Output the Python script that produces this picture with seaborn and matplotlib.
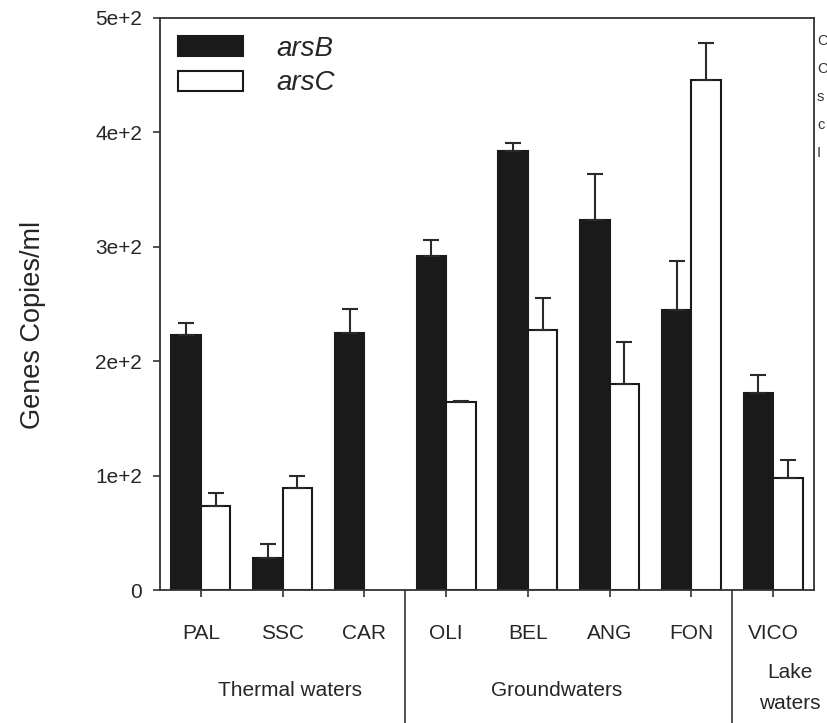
import numpy as np
import pandas as pd
import matplotlib
matplotlib.use("Agg")
import matplotlib.pyplot as plt
import seaborn as sns

# values
sites = ["PAL", "SSC", "CAR", "OLI", "BEL", "ANG", "FON", "VICO"]
genes = ["arsB", "arsC"]
arsb = [223, 28, 225, 292, 384, 323, 245, 172]
arsb_err = [10, 12, 21, 14, 7, 41, 43, 16]
arsc = [73, 89, np.nan, 164, 227, 180, 446, 98]   # no arsC bar for CAR
arsc_err = [12, 11, 0, 1, 28, 37, 32, 16]
y_ticks = [0, 100, 200, 300, 400, 500]
y_labels = ["0", "1e+2", "2e+2", "3e+2", "4e+2", "5e+2"]
groups = ["Thermal waters", "Groundwaters", "Lake\nwaters"]
group_breaks = [2.5, 6.5]
side_letters = ["C", "C", "s", "c", "I"]


def main():
    df = pd.DataFrame({
        "site": sites * 2,
        "gene": ["arsB"] * len(sites) + ["arsC"] * len(sites),
        "copies": arsb + arsc,
        "err": arsb_err + arsc_err,
    }).dropna()

    sns.set_style("ticks")
    plt.rcParams["font.family"] = ["Liberation Sans", "DejaVu Sans"]
    dark = "#1a1a1a"

    fig = plt.figure(figsize=(8.27, 7.23), dpi=100)
    ax = fig.add_axes([160 / 827, 1 - 590 / 723, 654 / 827, 572 / 723])

    sns.barplot(data=df, x="site", y="copies", hue="gene", order=sites,
                hue_order=genes, palette={"arsB": dark, "arsC": "white"},
                edgecolor=dark, linewidth=1.5, width=0.72, errorbar=None,
                saturation=1, ax=ax)

    # one-sided error bars on top of each bar
    errs = {"arsB": arsb_err, "arsC": arsc_err}
    for gene, cont in zip(genes, ax.containers):
        for bar in cont:
            h = bar.get_height()
            if np.isnan(h):
                continue
            cx = bar.get_x() + bar.get_width() / 2
            i = int(round(cx))
            e = errs[gene][i]
            if e <= 0:
                continue
            ax.errorbar(cx, h, yerr=[[0], [e]], fmt="none", ecolor="#2a2a2a",
                        elinewidth=1.5, capsize=6, capthick=1.5, zorder=1)

    ax.set_xlim(-0.5, 7.5)
    ax.set_ylim(0, 500)
    ax.set_yticks(y_ticks)
    ax.set_yticklabels(y_labels)
    ax.set_xlabel("")
    ax.set_ylabel("Genes Copies/ml", fontsize=19.5)
    ax.yaxis.set_label_coords(-0.175, 0.463)
    ax.tick_params(axis="x", labelsize=15, length=5, width=1.2, pad=19.5,
                   direction="out", color="#333333")
    ax.tick_params(axis="y", labelsize=15, length=5, width=1.2, pad=8,
                   direction="out", color="#333333")
    for s in ax.spines.values():
        s.set_visible(True)
        s.set_linewidth(1.3)
        s.set_color("#333333")

    old = ax.get_legend()
    handles = old.legend_handles
    labels = [t.get_text() for t in old.get_texts()]
    old.remove()
    ax.legend(handles, labels, loc="upper left", frameon=False,
              prop={"style": "italic", "size": 20}, handlelength=2.35,
              handleheight=0.72, handletextpad=1.2, labelspacing=0.3,
              borderaxespad=0.25)

    # group separators below the axis
    trans = ax.get_xaxis_transform()
    for xb in group_breaks:
        ax.plot([xb, xb], [0, -0.235], transform=trans, clip_on=False,
                color="#333333", lw=1.2)

    fig.text(290 / 827, 1 - 690 / 723, groups[0], fontsize=15,
             ha="center", va="center")
    fig.text(557 / 827, 1 - 690 / 723, groups[1], fontsize=15,
             ha="center", va="center")
    fig.text(790 / 827, 1 - 688 / 723, groups[2], fontsize=15,
             ha="center", va="center", linespacing=1.85)

    # letters of neighbouring text at the right edge
    for k, ch in enumerate(side_letters):
        fig.text(817 / 827, 1 - (41 + 28 * k) / 723, ch, fontsize=10.5,
                 ha="left", va="center", color="#333333")

    fig.savefig("out.png", dpi=100)


if __name__ == "__main__":
    main()
